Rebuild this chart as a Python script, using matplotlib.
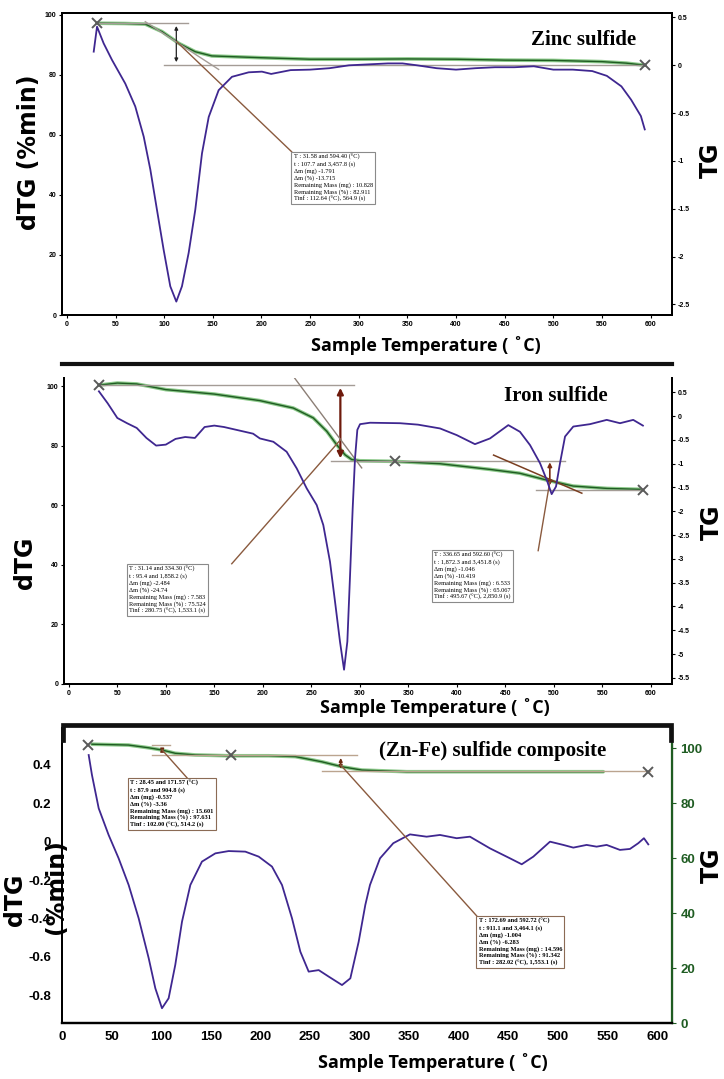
import matplotlib
matplotlib.use('Agg')
import matplotlib.pyplot as plt
from matplotlib.lines import Line2D
import numpy as np

# ---------------- datos ----------------
# Zinc sulfide (panel 1): dTG en eje derecho, TG (%) en eje izquierdo
zn_T = [27.6, 31, 37.8, 46.4, 60, 70.3, 79, 85.8, 92.6, 99.5, 106.3, 112.5, 118.3, 125.2,
        132, 138.9, 145.8, 156, 169.7, 186.9, 200.5, 210, 230, 250, 270, 290, 310, 330,
        345, 360, 380, 400, 420, 440, 460, 480, 500, 520, 540, 555, 570, 580, 590, 594]
zn_dtg = [0.143, 0.404, 0.23, 0.056, -0.19, -0.43, -0.746, -1.09, -1.51, -1.93, -2.31,
          -2.47, -2.31, -1.96, -1.51, -0.92, -0.54, -0.26, -0.12, -0.073, -0.066, -0.09,
          -0.05, -0.045, -0.03, 0.0, 0.01, 0.02, 0.02, 0.0, -0.03, -0.045, -0.03, -0.02,
          -0.02, -0.01, -0.045, -0.045, -0.06, -0.11, -0.22, -0.36, -0.53, -0.67]
zn_tg_T = [31, 60, 80.6, 97.8, 115, 132, 149, 200, 250, 300, 350, 400, 450, 500, 550, 575, 594]
zn_tg = [97.2, 97.1, 96.9, 94.4, 90.5, 87.7, 86.3, 85.7, 85.2, 85.2, 85.3, 85.2, 84.9,
         84.8, 84.4, 83.9, 83.2]
zn_info = ["T : 31.58 and 594.40 (°C)", "t : 107.7 and 3,457.8 (s)", "Δm (mg) -1.791",
           "Δm (%) -13.715", "Remaining Mass (mg) : 10.828", "Remaining Mass (%) : 82.911",
           "Tinf : 112.64 (°C), 564.9 (s)"]

# Iron sulfide (panel 2)
fe_T = [31, 40, 50, 60, 70, 80, 90, 100, 110, 120, 130, 140, 150, 160, 175, 190, 197,
        210.9, 224.6, 235, 245.3, 255.6, 262.4, 269.3, 274.5, 279.6, 283.8, 287.2, 290,
        292.7, 295.1, 297.5, 300.3, 310.6, 341.5, 360, 382.8, 400, 418.8, 434.3, 453.2,
        465.2, 475.6, 485.9, 492.8, 497.9, 502.4, 506.5, 511.7, 520.2, 537.4, 554.7,
        568.4, 582, 592]
fe_dtg = [0.52, 0.27, -0.04, -0.15, -0.25, -0.46, -0.62, -0.60, -0.48, -0.44, -0.46,
          -0.23, -0.20, -0.23, -0.30, -0.37, -0.47, -0.54, -0.75, -1.10, -1.52, -1.87,
          -2.29, -3.06, -3.90, -4.74, -5.33, -4.74, -3.34, -1.94, -0.89, -0.29, -0.17,
          -0.14, -0.15, -0.18, -0.26, -0.40, -0.59, -0.47, -0.19, -0.33, -0.61, -0.99,
          -1.34, -1.64, -1.48, -0.99, -0.43, -0.22, -0.17, -0.08, -0.15, -0.08, -0.20]
fe_tg_T = [31, 50, 70, 100, 150, 197, 231.5, 252, 266, 276.2, 284.8, 291.7, 300.3, 334.6,
           382.8, 434, 465, 493, 520, 555, 589]
fe_tg = [100.4, 101.1, 100.8, 98.9, 97.4, 95.2, 92.7, 89.4, 84.9, 80.4, 77.0, 75.4, 75.0,
         74.8, 74.0, 72.1, 70.8, 68.5, 66.5, 65.7, 65.4]
fe_info1 = ["T : 31.14 and 334.30 (°C)", "t : 95.4 and 1,858.2 (s)", "Δm (mg) -2.484",
            "Δm (%) -24.74", "Remaining Mass (mg) : 7.583", "Remaining Mass (%) : 75.524",
            "Tinf : 280.75 (°C), 1,533.1 (s)"]
fe_info2 = ["T : 336.65 and 592.60 (°C)", "t : 1,872.3 and 3,451.8 (s)", "Δm (mg) -1.046",
            "Δm (%) -10.419", "Remaining Mass (mg) : 6.533", "Remaining Mass (%) : 65.067",
            "Tinf : 495.67 (°C), 2,850.9 (s)"]

# (Zn-Fe) sulfide composite (panel 3): dTG eje izquierdo, TG eje derecho
co_T = [26.9, 30.2, 37, 47, 57.1, 67.2, 77.3, 87.4, 94.1, 100.8, 107.5, 114.2, 121, 129.4,
        141.1, 154.6, 168, 184.8, 198.3, 211.7, 221.8, 231.9, 240.3, 248.7, 258.8, 268.9,
        282.3, 290.7, 299.1, 305.8, 310.5, 320.6, 334, 350.8, 367.6, 381.1, 397.9, 411.3,
        431.5, 451.7, 463.5, 475.2, 492, 505.4, 515.5, 528.9, 539, 549.1, 562.5, 572.6,
        581, 586.7, 591.1]
co_dtg = [0.452, 0.348, 0.174, 0.035, -0.087, -0.226, -0.40, -0.608, -0.765, -0.869,
          -0.817, -0.643, -0.417, -0.226, -0.104, -0.061, -0.049, -0.052, -0.078, -0.13,
          -0.226, -0.40, -0.574, -0.678, -0.67, -0.704, -0.748, -0.713, -0.522, -0.33,
          -0.226, -0.087, -0.008, 0.038, 0.026, 0.035, 0.018, 0.026, -0.035, -0.087,
          -0.118, -0.078, 0.0, -0.017, -0.031, -0.017, -0.026, -0.017, -0.043, -0.038,
          -0.008, 0.018, -0.014]
co_tg_T = [30.2, 67, 87.4, 100.8, 114.2, 134.4, 168, 208.3, 235.2, 262.1, 282.3, 302.4,
           347.5, 450, 545.7]
co_tg = [101.4, 101.1, 100.1, 99.3, 98.1, 97.5, 97.2, 97.2, 96.9, 95.0, 93.2, 92.0, 91.4,
         91.4, 91.4]
co_info1 = ["T : 28.45 and 171.57 (°C)", "t : 87.9 and 904.8 (s)", "Δm (mg) -0.537",
            "Δm (%) -3.36", "Remaining Mass (mg) : 15.601", "Remaining Mass (%) : 97.631",
            "Tinf : 102.00 (°C), 514.2 (s)"]
co_info2 = ["T : 172.69 and 592.72 (°C)", "t : 911.1 and 3,464.1 (s)", "Δm (mg) -1.004",
            "Δm (%) -6.283", "Remaining Mass (mg) : 14.596", "Remaining Mass (%) : 91.342",
            "Tinf : 282.02 (°C), 1,553.1 (s)"]

# ---------------- estilos ----------------
W, H = 724, 1079
MORADO = '#3f2790'
VERDE = '#1f5c22'
VERDE_CLARO = '#8cc98a'
GRIS = '#a49c96'
TAN = '#bba48f'
CAFE = '#8a5a3e'
ROJO = '#6e1a0c'
XCOL = '#5a5a5a'
xlabel_txt = 'Sample Temperature ( ˚C)'

fig = plt.figure(figsize=(W / 100, H / 100), dpi=100)


def caja(l, t, r, b):
    return [l / W, 1 - b / H, (r - l) / W, (b - t) / H]


def fx(x):
    return x / W


def fy(y):
    return 1 - y / H


def curva_tg(ax, T, v):
    ax.plot(T, v, color=VERDE_CLARO, lw=2.6, solid_capstyle='round',
            solid_joinstyle='round', zorder=2)
    ax.plot(T, v, color=VERDE, lw=1.0, solid_joinstyle='round', zorder=3)


def curva_dtg(ax, T, v):
    ax.plot(T, v, color=MORADO, lw=1.3, solid_joinstyle='round', zorder=3)


def cuadro(ax, x, y, lineas, borde='#8a8a8a', peso='normal'):
    ax.text(x, y, '\n'.join(lineas), ha='left', va='top', fontsize=4.6,
            family='Liberation Serif', fontweight=peso, linespacing=1.25, zorder=6,
            bbox=dict(boxstyle='square,pad=0.35', fc='white', ec=borde, lw=0.8))


def marca(ax, x, y):
    ax.plot(x, y, marker='x', ms=7, mew=1.4, color=XCOL, zorder=5)


def ticks_chicos(ax):
    ax.tick_params(direction='out', length=2.5, width=0.8, labelsize=5, pad=1.5)
    for lab in ax.get_xticklabels() + ax.get_yticklabels():
        lab.set_fontweight('bold')
        lab.set_family('Liberation Sans')


def fmt(v):
    return '{:g}'.format(v)


# ================= Panel 1: Zinc sulfide =================
ax1 = fig.add_axes(caja(62, 13, 672, 315))
ax1b = ax1.twinx()
ax1.set_xlim(-5, 622)
ax1.set_ylim(0, 100.6)
ax1b.set_ylim(-2.61, 0.547)
curva_tg(ax1, zn_tg_T, zn_tg)
curva_dtg(ax1b, zn_T, zn_dtg)

ax1.plot([31, 125], [97.2, 97.2], color=GRIS, lw=1.0, zorder=4)
ax1.plot([99.5, 594], [83.3, 83.3], color=GRIS, lw=1.0, zorder=4)
ax1.plot([80.6, 156], [97.7, 81.8], color=GRIS, lw=1.0, zorder=4)
ax1.annotate('', xy=(112.5, 97.2), xytext=(112.5, 83.3),
             arrowprops=dict(arrowstyle='<|-|>', color='#222222', lw=0.9, mutation_scale=5))
ax1.plot([113, 231], [91.0, 54.4], color=CAFE, lw=1.0, zorder=4)
cuadro(ax1, 233, 53.6, zn_info)
marca(ax1, 31, 97.2)
marca(ax1, 594, 83.2)
ax1.text(531, 91.5, 'Zinc sulfide', ha='center', va='center', fontsize=15,
         family='Liberation Serif', fontweight='bold')

ax1.set_xticks(np.arange(0, 601, 50))
ax1.set_yticks(np.arange(0, 101, 20))
ax1b.set_yticks(np.arange(0.5, -2.51, -0.5))
ax1b.set_yticklabels([fmt(v) for v in np.arange(0.5, -2.51, -0.5)])
for ax in (ax1, ax1b):
    for s in ax.spines.values():
        s.set_linewidth(1.4)
    ticks_chicos(ax)

fig.text(fx(29), fy(152), 'dTG (%min)', rotation=90, ha='center', va='center',
         fontsize=17, fontweight='bold')
fig.text(fx(711), fy(160), 'TG', rotation=90, ha='center', va='center',
         fontsize=17, fontweight='bold')
fig.text(fx(426), fy(346), xlabel_txt, ha='center', va='center', fontsize=13,
         fontweight='bold', family='Open Sans')
fig.add_artist(Line2D([fx(62), fx(672)], [fy(364), fy(364)], color='#111111', lw=3))

# ================= Panel 2: Iron sulfide =================
ax2 = fig.add_axes(caja(64, 378, 672, 684))
ax2b = ax2.twinx()
ax2.set_xlim(-5, 622)
ax2.set_ylim(0, 102.8)
ax2b.set_ylim(-5.63, 0.8)
curva_tg(ax2, fe_tg_T, fe_tg)
curva_dtg(ax2b, fe_T, fe_dtg)

ax2.plot([31, 294], [100.4, 100.4], color=GRIS, lw=1.0, zorder=4)
ax2.plot([270, 512], [74.9, 74.9], color=GRIS, lw=1.0, zorder=4)
ax2.plot([233, 302], [102.7, 72.6], color='#8c7f76', lw=1.0, zorder=4)
ax2.annotate('', xy=(280, 100.4), xytext=(280, 74.9),
             arrowprops=dict(arrowstyle='<|-|>', color=ROJO, lw=1.6, mutation_scale=9))
ax2.plot([482, 592], [65.2, 65.2], color=GRIS, lw=1.0, zorder=4)
ax2.plot([438, 529], [76.9, 64.1], color='#7a3e20', lw=1.1, zorder=4)
ax2.annotate('', xy=(496, 75.4), xytext=(496, 65.8),
             arrowprops=dict(arrowstyle='<|-|>', color='#7a2a10', lw=1.2, mutation_scale=6))
ax2.plot([168, 280], [40.4, 82.0], color=CAFE, lw=1.0, zorder=4)
ax2.plot([484, 496], [44.8, 68.0], color=CAFE, lw=1.0, zorder=4)
cuadro(ax2, 62, 39.6, fe_info1)
cuadro(ax2, 377, 44.3, fe_info2)
marca(ax2, 31, 100.4)
marca(ax2, 336, 74.9)
marca(ax2, 592, 65.2)
ax2.text(502, 96.6, 'Iron sulfide', ha='center', va='center', fontsize=15,
         family='Liberation Serif', fontweight='bold')

ax2.set_xticks(np.arange(0, 601, 50))
ax2.set_yticks(np.arange(0, 101, 20))
ax2b.set_yticks(np.arange(0.5, -5.51, -0.5))
ax2b.set_yticklabels([fmt(v) for v in np.arange(0.5, -5.51, -0.5)])
for ax in (ax2, ax2b):
    ax.spines['top'].set_visible(False)
    for s in ax.spines.values():
        s.set_linewidth(1.4)
    ticks_chicos(ax)

fig.text(fx(25), fy(563), 'dTG', rotation=90, ha='center', va='center',
         fontsize=17, fontweight='bold')
fig.text(fx(712), fy(522), 'TG', rotation=90, ha='center', va='center',
         fontsize=17, fontweight='bold')
fig.text(fx(435), fy(708), xlabel_txt, ha='center', va='center', fontsize=13,
         fontweight='bold', family='Open Sans')

# ================= Panel 3: composite =================
ax3 = fig.add_axes(caja(62, 728, 672, 1023))
ax3b = ax3.twinx()
ax3.set_xlim(0, 615)
ax3.set_ylim(-0.946, 0.593)
ax3b.set_ylim(0, 107.3)
curva_dtg(ax3, co_T, co_dtg)
curva_tg(ax3b, co_tg_T, co_tg)

ax3b.plot([91, 109], [101.1, 101.1], color=TAN, lw=1.0, zorder=4)
ax3b.plot([91, 297], [97.4, 97.4], color=TAN, lw=1.0, zorder=4)
ax3b.plot([262, 593], [91.5, 91.5], color=TAN, lw=1.0, zorder=4)
ax3b.annotate('', xy=(101, 101.1), xytext=(101, 97.4),
              arrowprops=dict(arrowstyle='<|-|>', color='#6b2a10', lw=1.0, mutation_scale=5))
ax3b.annotate('', xy=(281, 97.4), xytext=(281, 91.5),
              arrowprops=dict(arrowstyle='<|-|>', color='#6b2a10', lw=1.0, mutation_scale=5))
ax3b.plot([101, 126], [99.3, 89.2], color=CAFE, lw=1.0, zorder=4)
ax3b.plot([281, 418], [93.8, 39.0], color=CAFE, lw=1.0, zorder=4)
cuadro(ax3b, 69, 88.4, co_info1, borde='#8b6b55', peso='bold')
cuadro(ax3b, 420, 38.2, co_info2, borde='#8b6b55', peso='bold')
marca(ax3b, 26.5, 101.1)
marca(ax3b, 170, 97.4)
marca(ax3b, 591, 91.3)
ax3b.text(434, 98.8, '(Zn-Fe) sulfide composite', ha='center', va='center', fontsize=15,
          family='Liberation Serif', fontweight='bold', zorder=7)

ax3.set_xticks(np.arange(0, 601, 50))
ax3.set_yticks([0.4, 0.2, 0, -0.2, -0.4, -0.6, -0.8])
ax3.set_yticklabels(['0.4', '0.2', '0', '-0.2', '-0.4', '-0.6', '-0.8'])
ax3b.set_yticks(np.arange(0, 101, 20))
for ax in (ax3, ax3b):
    ax.spines['top'].set_visible(False)
    ax.spines['left'].set_linewidth(1.4)
    ax.spines['bottom'].set_linewidth(1.6)
ax3b.spines['right'].set_color(VERDE)
ax3b.spines['right'].set_linewidth(1.6)
ax3.tick_params(axis='x', length=0, labelsize=9.5, pad=6)
ax3.tick_params(axis='y', length=0, labelsize=9.5, pad=8)
ax3b.tick_params(axis='y', length=3, color=VERDE, labelcolor=VERDE, labelsize=9.5, pad=3)
for lab in ax3.get_xticklabels() + ax3.get_yticklabels() + ax3b.get_yticklabels():
    lab.set_fontweight('bold')
    lab.set_family('Liberation Sans')

# corchete superior grueso
fig.add_artist(Line2D([fx(63), fx(63), fx(671), fx(671)],
                      [fy(740), fy(725), fy(725), fy(740)],
                      color='#111111', lw=3.4, solid_joinstyle='miter'))

fig.text(fx(15), fy(900), 'dTG', rotation=90, ha='center', va='center',
         fontsize=17, fontweight='bold')
fig.text(fx(56), fy(887), '(%min)', rotation=90, ha='center', va='center',
         fontsize=17, fontweight='bold')
fig.text(fx(712), fy(865), 'TG', rotation=90, ha='center', va='center',
         fontsize=17, fontweight='bold')
fig.text(fx(433), fy(1063), xlabel_txt, ha='center', va='center', fontsize=13,
         fontweight='bold', family='Open Sans')

fig.savefig('out.png', dpi=100)
